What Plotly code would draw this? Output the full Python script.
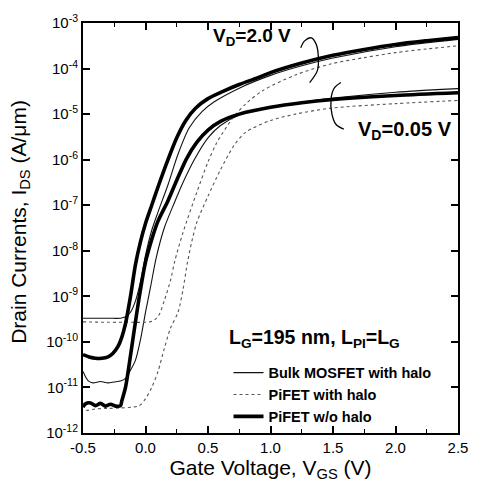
import numpy as np
import plotly.graph_objects as go

# Gate voltage sample points (V) and log10 of drain current (A/um) per device / drain bias
vg_bulk_hi = [-0.5, -0.3, -0.2, -0.16, -0.12, -0.08, -0.05, -0.02, 0.0, 0.05, 0.1, 0.18, 0.26, 0.35, 0.45, 0.55, 0.75, 1.0, 1.25, 1.5, 2.0, 2.5]
lg_bulk_hi = [-9.48, -9.48, -9.48, -9.45, -9.35, -9.1, -8.8, -8.4, -8.1, -7.55, -7.15, -6.55, -5.88, -5.3, -4.95, -4.73, -4.43, -4.15, -3.94, -3.77, -3.52, -3.36]

vg_bulk_lo = [-0.5, -0.46, -0.42, -0.36, -0.3, -0.25, -0.2, -0.16, -0.12, -0.08, -0.04, 0.0, 0.04, 0.086, 0.15, 0.23, 0.3, 0.39, 0.5, 0.6, 0.75, 1.0, 1.25, 1.5, 2.0, 2.5]
lg_bulk_lo = [-10.65, -10.85, -10.9, -10.87, -10.9, -10.88, -10.86, -10.8, -10.62, -10.4, -9.95, -9.35, -8.8, -8.15, -7.5, -6.95, -6.5, -6.0, -5.52, -5.25, -5.02, -4.85, -4.74, -4.65, -4.52, -4.44]

vg_halo_hi = [-0.5, -0.3, -0.1, 0.0, 0.05, 0.08, 0.11, 0.15, 0.2, 0.234, 0.3, 0.41, 0.5, 0.57, 0.7, 0.8, 0.94, 1.2, 1.48, 1.75, 2.0, 2.25, 2.5]
lg_halo_hi = [-9.56, -9.57, -9.57, -9.57, -9.55, -9.5, -9.4, -9.1, -8.65, -8.23, -7.6, -6.72, -6.05, -5.63, -5.08, -4.78, -4.48, -4.14, -3.9, -3.76, -3.65, -3.57, -3.5]

vg_halo_lo = [-0.5, -0.47, -0.4, -0.3, -0.2, -0.1, -0.05, 0.0, 0.05, 0.1, 0.15, 0.2, 0.26, 0.3, 0.336, 0.37, 0.41, 0.5, 0.6, 0.71, 0.8, 1.0, 1.2, 1.48, 2.0, 2.5]
lg_halo_lo = [-11.38, -11.5, -11.47, -11.46, -11.45, -11.43, -11.4, -11.25, -11.0, -10.65, -10.15, -9.7, -9.35, -8.85, -8.25, -7.8, -7.38, -6.8, -6.22, -5.68, -5.4, -5.14, -5.0, -4.87, -4.77, -4.7]

vg_nohalo_hi = [-0.5, -0.45, -0.4, -0.35, -0.3, -0.26, -0.22, -0.19, -0.16, -0.12, -0.08, -0.04, 0.0, 0.05, 0.1, 0.18, 0.25, 0.32, 0.4, 0.5, 0.62, 0.75, 0.9, 1.0, 1.25, 1.5, 1.75, 2.0, 2.25, 2.5]
lg_nohalo_hi = [-10.28, -10.33, -10.36, -10.36, -10.33, -10.25, -10.1, -9.9, -9.6, -9.0, -8.3, -7.8, -7.4, -7.0, -6.6, -6.0, -5.52, -5.15, -4.87, -4.66, -4.5, -4.35, -4.2, -4.09, -3.88, -3.71, -3.58, -3.47, -3.39, -3.32]

vg_nohalo_lo = [-0.5, -0.48, -0.44, -0.4, -0.36, -0.32, -0.28, -0.24, -0.2, -0.19, -0.16, -0.12, -0.08, -0.04, 0.0, 0.05, 0.1, 0.18, 0.25, 0.33, 0.41, 0.5, 0.6, 0.75, 1.0, 1.25, 1.5, 2.0, 2.5]
lg_nohalo_lo = [-11.43, -11.36, -11.34, -11.4, -11.35, -11.41, -11.37, -11.41, -11.4, -11.3, -11.0, -10.3, -9.55, -8.85, -8.25, -7.75, -7.35, -6.9, -6.45, -5.97, -5.62, -5.35, -5.16, -5.0, -4.85, -4.75, -4.68, -4.59, -4.53]

# Bracket outlines grouping the curves of each drain bias (V, log10 A/um)
brace_hi_v = [1.242, 1.273, 1.328, 1.367, 1.383, 1.375, 1.313]
brace_hi_lg = [-3.545, -3.392, -3.327, -3.479, -3.763, -4.046, -4.307]
brace_lo_v = [1.5625, 1.508, 1.484, 1.492, 1.523, 1.586]
brace_lo_lg = [-4.307, -4.438, -4.678, -5.004, -5.222, -5.331]

x_ticks = [-0.5, 0.0, 0.5, 1.0, 1.5, 2.0, 2.5]
y_exponents = list(range(-12, -2))

FONT = "Liberation Sans, Arial, sans-serif"

fig = go.Figure()

styles = {
    "bulk": dict(color="#111111", width=1.1),
    "halo": dict(color="#555555", width=1.1, dash="dot"),
    "nohalo": dict(color="#000000", width=3.6),
}

series = [
    ("bulk", "Bulk MOSFET with halo", vg_bulk_hi, lg_bulk_hi, True),
    ("bulk", "Bulk MOSFET with halo", vg_bulk_lo, lg_bulk_lo, False),
    ("halo", "PiFET with halo", vg_halo_hi, lg_halo_hi, True),
    ("halo", "PiFET with halo", vg_halo_lo, lg_halo_lo, False),
    ("nohalo", "PiFET w/o halo", vg_nohalo_hi, lg_nohalo_hi, True),
    ("nohalo", "PiFET w/o halo", vg_nohalo_lo, lg_nohalo_lo, False),
]

for key, name, vg, lg, show in series:
    fig.add_trace(go.Scatter(
        x=vg, y=10 ** np.array(lg), mode="lines", name=name,
        legendgroup=key, showlegend=show,
        line=dict(shape="spline", smoothing=0.8, **styles[key]),
        hoverinfo="skip",
    ))

for bv, blg in [(brace_hi_v, brace_hi_lg), (brace_lo_v, brace_lo_lg)]:
    fig.add_trace(go.Scatter(
        x=bv, y=10 ** np.array(blg), mode="lines", showlegend=False,
        line=dict(color="black", width=1.3, shape="spline", smoothing=1.0),
        hoverinfo="skip",
    ))

axis_common = dict(
    showline=True, linecolor="black", linewidth=2, mirror="allticks",
    ticks="inside", tickcolor="black", tickwidth=1.5, ticklen=7,
    showgrid=False, zeroline=False,
    tickfont=dict(family=FONT, size=15, color="black"),
)

fig.update_xaxes(
    range=[-0.5, 2.5], tickvals=x_ticks, ticktext=[f"{v:.1f}" for v in x_ticks],
    minor=dict(dtick=0.25, tick0=-0.5, ticks="inside", ticklen=4, tickcolor="black", tickwidth=1.2),
    title=dict(text="Gate Voltage, V<sub>GS</sub> (V)", font=dict(family=FONT, size=21, color="black"), standoff=4),
    **axis_common,
)
fig.update_yaxes(
    type="log", range=[-12, -3],
    tickvals=[10.0 ** e for e in y_exponents],
    ticktext=[f"10<sup>{e}</sup>" for e in y_exponents],
    **axis_common,
)

# Vertical axis title placed as a rotated annotation
fig.add_annotation(text="Drain Currents, I<sub>DS</sub> (A/\u03bcm)", xref="paper", yref="paper",
                   x=-0.167, y=0.516, xanchor="center", yanchor="middle", textangle=-90,
                   showarrow=False, font=dict(family=FONT, size=21, color="black"))

ann_font = dict(family=FONT, size=19, color="black")
fig.add_annotation(text="<b>V<sub>D</sub>=2.0 V</b>", xref="paper", yref="paper",
                   x=0.341, y=0.966, xanchor="left", yanchor="middle", showarrow=False, font=ann_font)
fig.add_annotation(text="<b>V<sub>D</sub>=0.05 V</b>", xref="paper", yref="paper",
                   x=0.727, y=0.738, xanchor="left", yanchor="middle", showarrow=False,
                   font=dict(family=FONT, size=20, color="black"))
fig.add_annotation(text="<b>L<sub>G</sub>=195 nm, L<sub>PI</sub>=L<sub>G</sub></b>", xref="paper", yref="paper",
                   x=0.383, y=0.230, xanchor="left", yanchor="middle", showarrow=False,
                   font=dict(family=FONT, size=19.5, color="black"))

fig.update_layout(
    width=480, height=494,
    margin=dict(l=83, r=13, t=20, b=61),
    paper_bgcolor="white", plot_bgcolor="white",
    font=dict(family=FONT, color="black"),
    legend=dict(
        x=0.388, y=0.186, xanchor="left", yanchor="top",
        bgcolor="rgba(0,0,0,0)", borderwidth=0, tracegroupgap=0,
        font=dict(family=FONT, size=14.5, color="black", weight="bold"),
        itemwidth=30,
    ),
    showlegend=True,
)

fig.write_html("out.html")
